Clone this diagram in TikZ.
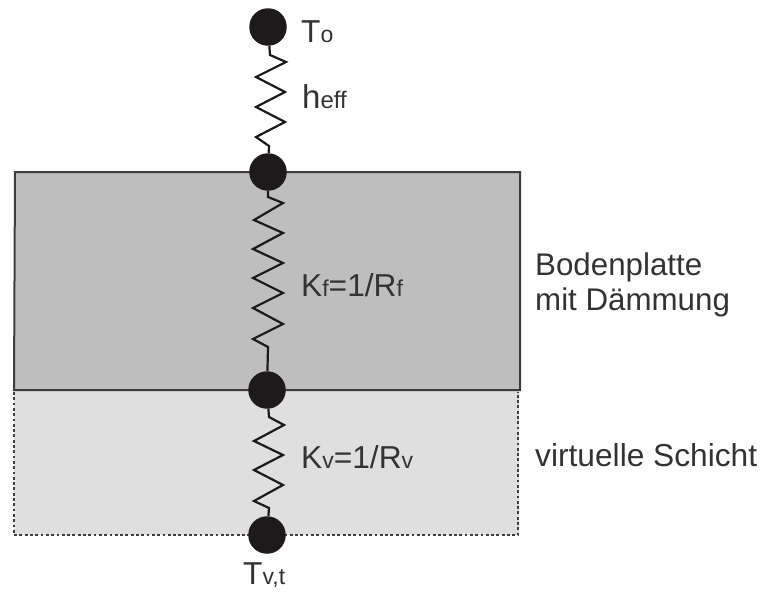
\documentclass[tikz,border=0pt]{standalone}
\usepackage{fontspec}
\setmainfont{Liberation Sans}
\definecolor{plate}{HTML}{BEBEBE}
\definecolor{virt}{HTML}{DFDFDF}
\definecolor{ink}{HTML}{1E1A1B}
\definecolor{txt}{HTML}{333333}
\newcommand{\bigtxt}{\fontsize{31.7}{35}\selectfont}
\newcommand{\sidetxt}{\fontsize{31.3}{35}\selectfont}
\newcommand{\smalltxt}{\fontsize{23}{27}\selectfont}
\tikzset{
  dot/.style={circle,fill=ink,draw=none,minimum size=37.5pt,inner sep=0pt},
  res/.style={draw=ink,line width=2.2pt,line join=miter},
  lbl/.style={inner sep=0pt,anchor=base west,text=txt},
}
\begin{document}
\begin{tikzpicture}[x=1pt,y=-1pt]
\useasboundingbox (0,0) rectangle (760,592);
\fill[plate] (15,172) rectangle (520,390);
\fill[virt] (14,390) rectangle (519,535);
\draw[ink!85,line width=2pt] (14,390) -- (15,172) -- (520,172) -- (520,390) -- cycle;
\draw[ink!85,line width=2.6pt,dash pattern=on 2.8pt off 2.5pt] (14,392) -- (14,535) -- (518,535) -- (518,392);
\node[dot] (n1) at (268,27) {};
\node[dot] (n2) at (268,172) {};
\node[dot] (n3) at (267,390) {};
\node[dot] (n4) at (267,535) {};
\draw[res] (n1) -- (270,55) -- (286,62) -- (256,77) -- (285,92) -- (256,107) -- (285,122) -- (256,137) -- (269,146) -- (n2);
\draw[res] (n2) -- (268,197) -- (283,203) -- (254,220) -- (283,233) -- (253,249) -- (283,263) -- (253,278) -- (283,293) -- (253,308) -- (283,324) -- (253,339) -- (268,347) -- (n3);
\draw[res] (n3) -- (269,417) -- (284,425) -- (254,441) -- (283,455) -- (254,470) -- (283,485) -- (254,501) -- (269,508) -- (n4);
\node[lbl] (t1) at (301,42) {\bigtxt T\smalltxt o};
\node[lbl] (t2) at (302,108) {\fontsize{33}{37}\selectfont h\fontsize{24}{28}\selectfont eff};
\node[lbl] (t3) at (301,296) {\bigtxt K\smalltxt f\bigtxt =1/R\smalltxt f};
\node[lbl] (t4) at (301,468) {\bigtxt K\smalltxt v\bigtxt =1/R\smalltxt v};
\node[lbl] (t5) at (243,584) {\bigtxt T\smalltxt v,t};
\node[lbl] (t6) at (535,275) {\sidetxt Bodenplatte};
\node[lbl] (t7) at (535,310) {\sidetxt mit Dämmung};
\node[lbl] (t8) at (535,466) {\bigtxt virtuelle Schicht};
\end{tikzpicture}
\end{document}
